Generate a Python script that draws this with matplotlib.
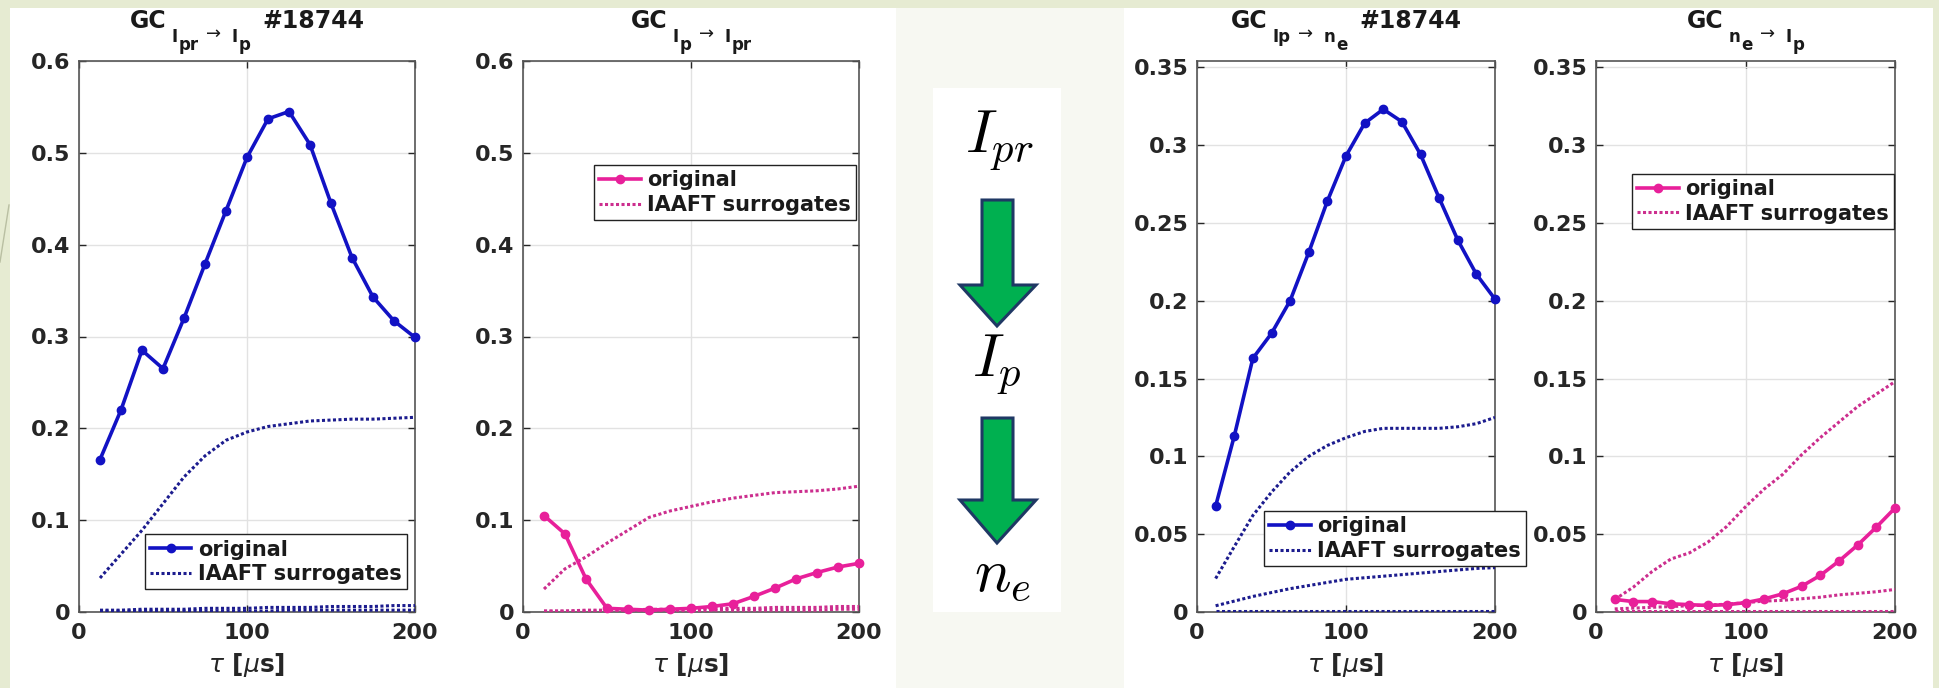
import matplotlib
matplotlib.use("Agg")
import matplotlib.pyplot as plt
from matplotlib.patches import Rectangle, Polygon
from matplotlib.lines import Line2D

plt.rcParams['font.family'] = ['DejaVu Sans']
plt.rcParams['mathtext.fontset'] = 'dejavusans'

W, H = 1939, 688

tau = [12.5, 25, 37.5, 50, 62.5, 75, 87.5, 100, 112.5, 125, 137.5, 150, 162.5, 175, 187.5, 200]

# Panel 1: GC Ipr -> Ip
p1_orig = [0.166, 0.220, 0.285, 0.265, 0.320, 0.379, 0.437, 0.495, 0.537, 0.545, 0.509, 0.445, 0.386, 0.343, 0.317, 0.299]
p1_surr_hi = [0.037, 0.063, 0.089, 0.118, 0.147, 0.170, 0.187, 0.196, 0.202, 0.205, 0.208, 0.209, 0.210, 0.210, 0.211, 0.212]
p1_surr_mid = [0.002, 0.002, 0.003, 0.003, 0.003, 0.004, 0.004, 0.004, 0.005, 0.005, 0.005, 0.006, 0.006, 0.006, 0.007, 0.007]
p1_surr_lo = [0.001, 0.001, 0.001, 0.001, 0.001, 0.001, 0.001, 0.001, 0.001, 0.002, 0.002, 0.002, 0.002, 0.002, 0.002, 0.002]

# Panel 2: GC Ip -> Ipr
p2_orig = [0.105, 0.085, 0.036, 0.004, 0.003, 0.002, 0.003, 0.004, 0.006, 0.009, 0.017, 0.026, 0.036, 0.043, 0.049, 0.053]
p2_surr_hi = [0.025, 0.047, 0.060, 0.075, 0.089, 0.103, 0.110, 0.115, 0.120, 0.124, 0.127, 0.130, 0.131, 0.132, 0.134, 0.137]
p2_surr_mid = [0.001, 0.001, 0.002, 0.002, 0.002, 0.003, 0.003, 0.003, 0.004, 0.004, 0.004, 0.005, 0.005, 0.005, 0.006, 0.006]
p2_surr_lo = [0.001, 0.001, 0.001, 0.001, 0.001, 0.001, 0.001, 0.001, 0.002, 0.002, 0.002, 0.002, 0.002, 0.002, 0.003, 0.003]

# Panel 3: GC Ip -> ne
p3_orig = [0.068, 0.113, 0.163, 0.179, 0.200, 0.231, 0.264, 0.293, 0.314, 0.323, 0.315, 0.294, 0.266, 0.239, 0.217, 0.201]
p3_surr_hi = [0.0215, 0.042, 0.062, 0.077, 0.090, 0.100, 0.107, 0.112, 0.116, 0.118, 0.118, 0.118, 0.118, 0.119, 0.121, 0.125]
p3_surr_mid = [0.004, 0.007, 0.010, 0.0125, 0.015, 0.017, 0.019, 0.021, 0.022, 0.023, 0.024, 0.025, 0.026, 0.027, 0.028, 0.0285]
p3_surr_lo = [0.0005, 0.0005, 0.0005, 0.0005, 0.0005, 0.0005, 0.0005, 0.0005, 0.0005, 0.0005, 0.0005, 0.0005, 0.0005, 0.0005, 0.0005, 0.0005]

# Panel 4: GC ne -> Ip
p4_orig = [0.0081, 0.0067, 0.0067, 0.0053, 0.0047, 0.0042, 0.0047, 0.0060, 0.0084, 0.0117, 0.0165, 0.0235, 0.0327, 0.0430, 0.0545, 0.0668]
p4_surr_hi = [0.008, 0.016, 0.026, 0.034, 0.038, 0.045, 0.055, 0.0676, 0.079, 0.0885, 0.101, 0.112, 0.122, 0.132, 0.140, 0.148]
p4_surr_mid = [0.002, 0.0025, 0.003, 0.0035, 0.004, 0.0045, 0.005, 0.006, 0.007, 0.0075, 0.0085, 0.0095, 0.011, 0.012, 0.013, 0.0145]
p4_surr_lo = [0.0005, 0.0005, 0.0005, 0.0005, 0.0005, 0.0005, 0.0005, 0.0005, 0.0005, 0.0005, 0.0005, 0.0005, 0.0005, 0.0005, 0.0005, 0.0005]

yt_big = [0, 0.1, 0.2, 0.3, 0.4, 0.5, 0.6]
yt_big_labels = ['0', '0.1', '0.2', '0.3', '0.4', '0.5', '0.6']
yt_small = [0, 0.05, 0.1, 0.15, 0.2, 0.25, 0.3, 0.35]
yt_small_labels = ['0', '0.05', '0.1', '0.15', '0.2', '0.25', '0.3', '0.35']
xt = [0, 100, 200]
xt_labels = ['0', '100', '200']

# title pieces: (text, level) ; level 0 = main, 1 = subscript, 2 = sub-subscript, 'a' = arrow
titles = [
    [('GC', 0), ('I', 1), ('pr', 2), ('\u2192', 'a'), ('I', 1), ('p', 2), ('#18744', 0)],
    [('GC', 0), ('I', 1), ('p', 2), ('\u2192', 'a'), ('I', 1), ('pr', 2)],
    [('GC', 0), ('Ip', 1), ('\u2192', 'a'), ('n', 1), ('e', 2), ('#18744', 0)],
    [('GC', 0), ('n', 1), ('e', 2), ('\u2192', 'a'), ('I', 1), ('p', 2)],
]
leg_labels = ['original', 'IAAFT surrogates']
middle_labels = [r'$I_{pr}$', r'$I_{p}$', r'$n_{e}$']

BLUE = '#1212c4'
NAVY = '#1c1c8e'
PINK = '#e8209a'
PINK_D = '#cc2e8e'

fig = plt.figure(figsize=(W / 100, H / 100), dpi=100)
fig.patch.set_facecolor('#e6ebd2')
renderer = fig.canvas.get_renderer()

def px_rect(x0, y0, x1, y1, color, z=0):
    fig.patches.append(Rectangle((x0 / W, 1 - y1 / H), (x1 - x0) / W, (y1 - y0) / H,
                                 transform=fig.transFigure, facecolor=color,
                                 edgecolor='none', zorder=z))

px_rect(10, 8, 896, 688, 'white')
px_rect(896, 8, 1124, 688, '#f7f8f2')
px_rect(1124, 8, 1933, 688, 'white')
px_rect(933, 88, 1061, 612, 'white', z=1)

# decorative slide line
fig.lines.append(Line2D([0 / W, 9 / W], [1 - 262 / H, 1 - 205 / H], transform=fig.transFigure,
                        color='#b9bfa2', lw=1.0))

def draw_title(cx, base_y, pieces):
    style = {0: (17, 'bold', 0, 12), 1: (12, 'bold', 14, 5), 2: (12, 'bold', 22, 1),
             'a': (13, 'normal', 11, 8)}
    objs = []
    total = 0
    prev = None
    for k, (txt, lvl) in enumerate(pieces):
        size, wt, dy, gap = style[lvl]
        if k == 0:
            gap = 0
        if lvl == 1 and prev == 'a':
            gap = 10
        if prev == 'a' and lvl == 0:
            gap = 10
        t = fig.text(0, 0, txt, fontsize=size, fontweight=wt, ha='left', va='baseline',
                     color='#1a1a1a')
        w = t.get_window_extent(renderer).width
        objs.append((t, gap, w, dy))
        total += gap + w
        prev = lvl
    x = cx - total / 2
    for t, gap, w, dy in objs:
        x += gap
        t.set_position((x / W, 1 - (base_y + dy) / H))
        x += w

panels = [
    dict(x0=79, x1=415, data=(p1_orig, p1_surr_hi, p1_surr_mid, p1_surr_lo), c=BLUE, cs=NAVY,
         ylim=0.6, yt=yt_big, ytl=yt_big_labels, leg=('lower left', 0.195, 0.041)),
    dict(x0=523, x1=859, data=(p2_orig, p2_surr_hi, p2_surr_mid, p2_surr_lo), c=PINK, cs=PINK_D,
         ylim=0.6, yt=yt_big, ytl=yt_big_labels, leg=('upper left', 0.211, 0.811)),
    dict(x0=1197, x1=1495, data=(p3_orig, p3_surr_hi, p3_surr_mid, p3_surr_lo), c=BLUE, cs=NAVY,
         ylim=0.354, yt=yt_small, ytl=yt_small_labels, leg=('lower left', 0.224, 0.083)),
    dict(x0=1596, x1=1895, data=(p4_orig, p4_surr_hi, p4_surr_mid, p4_surr_lo), c=PINK, cs=PINK_D,
         ylim=0.354, yt=yt_small, ytl=yt_small_labels, leg=('upper left', 0.12, 0.795)),
]

TOP, BOT = 61, 612
for i, p in enumerate(panels):
    ax = fig.add_axes([p['x0'] / W, 1 - BOT / H, (p['x1'] - p['x0']) / W, (BOT - TOP) / H])
    ax.set_facecolor('white')
    ax.set_zorder(2)
    orig, shi, smid, slo = p['data']
    l1, = ax.plot(tau, orig, '-', color=p['c'], lw=2.6, marker='o', ms=6, zorder=5, clip_on=False)
    l2, = ax.plot(tau, shi, linestyle=(0, (1, 0.8)), color=p['cs'], lw=2.2, zorder=4)
    ax.plot(tau, smid, linestyle=(0, (1, 0.8)), color=p['cs'], lw=2.2, zorder=4)
    ax.plot(tau, slo, linestyle=(0, (1, 0.8)), color=p['cs'], lw=2.2, zorder=4)
    ax.set_xlim(0, 200)
    ax.set_ylim(0, p['ylim'])
    ax.set_xticks(xt)
    ax.set_xticklabels(xt_labels)
    ax.set_yticks(p['yt'])
    ax.set_yticklabels(p['ytl'])
    ax.grid(True, color='#e2e2e2', lw=1.0)
    ax.set_axisbelow(True)
    ax.tick_params(direction='in', top=True, right=True, length=5, width=1.0,
                   labelsize=16, colors='#262626', pad=8)
    ax.tick_params(axis='y', pad=6)
    for lab in ax.get_xticklabels() + ax.get_yticklabels():
        lab.set_fontweight('bold')
    for s in ax.spines.values():
        s.set_color('#555555')
        s.set_linewidth(1.2)
    ax.set_xlabel(r'$\tau$ [$\mu$s]', fontsize=18, fontweight='bold', color='#262626', labelpad=6)
    loc, lx, ly = p['leg']
    leg = ax.legend([l1, l2], leg_labels, loc=loc, bbox_to_anchor=(lx, ly),
                    prop={'weight': 'bold', 'size': 15}, handlelength=2.0,
                    handletextpad=0.3, labelspacing=0.22, borderpad=0.25,
                    borderaxespad=0, fancybox=False, framealpha=1, edgecolor='#222222')
    leg.get_frame().set_linewidth(1.0)
    for t in leg.get_texts():
        t.set_color('#1a1a1a')
    cx = (p['x0'] + p['x1']) / 2
    draw_title(cx, 28, titles[i])

# middle diagram
def arrow(top, head, tip):
    cx = 997
    pts = [(982, top), (1013, top), (1013, head), (1036, head), (cx, tip), (960, head), (982, head)]
    fig.patches.append(Polygon([(x / W, 1 - y / H) for x, y in pts], closed=True,
                               transform=fig.transFigure, facecolor='#00b050',
                               edgecolor='#1f3864', lw=2.2, zorder=3))

arrow(200, 285, 326)
arrow(418, 500, 543)
fig.text(999 / W, 1 - 140 / H, middle_labels[0], ha='center', va='center', fontsize=44,
         math_fontfamily='cm', color='black', zorder=4)
fig.text(997 / W, 1 - 364 / H, middle_labels[1], ha='center', va='center', fontsize=44,
         math_fontfamily='cm', color='black', zorder=4)
fig.text(1003 / W, 1 - 574 / H, middle_labels[2], ha='center', va='center', fontsize=44,
         math_fontfamily='cm', color='black', zorder=4)

fig.savefig('out.png', dpi=100, facecolor=fig.get_facecolor())
